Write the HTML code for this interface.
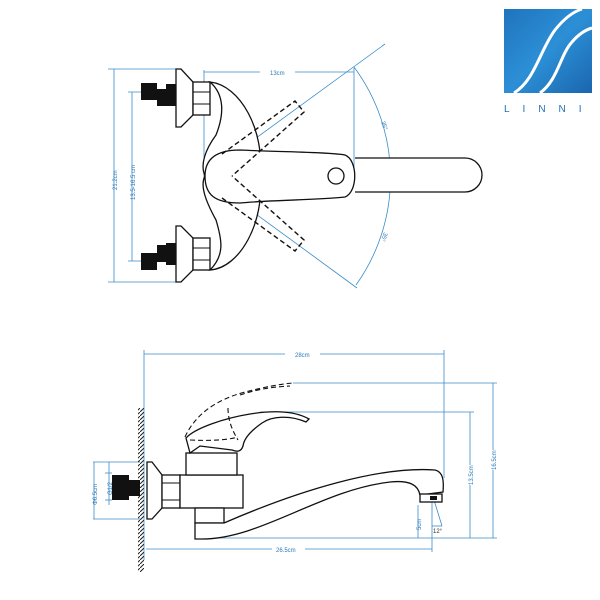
<!DOCTYPE html>
<html><head><meta charset="utf-8"><style>
body{margin:0;background:#fff}
svg{display:block}
text{font-family:"Liberation Sans",sans-serif;fill:#2a7ab8}
</style></head><body>
<svg width="600" height="600" viewBox="0 0 600 600" xmlns="http://www.w3.org/2000/svg">
<defs>
<linearGradient id="g" x1="0" y1="0" x2="1" y2="1"><stop offset="0" stop-color="#1f74bd"/><stop offset="0.5" stop-color="#2c8fd6"/><stop offset="1" stop-color="#1a66ad"/></linearGradient>
<pattern id="h" width="4" height="4" patternUnits="userSpaceOnUse"><path d="M0 4L4 0" stroke="#222" stroke-width="1"/></pattern>
</defs>
<!-- logo -->
<rect x="504" y="9" width="88" height="84" fill="url(#g)"/>
<path d="M514 93 C535 80 540 50 555 30 C563 20 572 12 582 9" stroke="#fff" stroke-width="3" fill="none"/>
<path d="M540 93 C558 80 560 55 572 42 C578 35 585 30 592 28" stroke="#fff" stroke-width="3" fill="none"/>
<text x="504" y="112" font-size="10" style="fill:#1f6fb5" letter-spacing="13">LINNI</text>

<g stroke="#3a8cc8" stroke-width="0.8" fill="none">
<line x1="108" y1="69" x2="176" y2="69"/><line x1="108" y1="282" x2="176" y2="282"/>
<line x1="114" y1="69" x2="114" y2="282"/>
<line x1="128" y1="92" x2="158" y2="92"/><line x1="128" y1="261" x2="158" y2="261"/>
<line x1="132" y1="92" x2="132" y2="261"/>
<line x1="204" y1="70" x2="204" y2="180"/>
<line x1="204" y1="72" x2="260" y2="72"/><line x1="295" y1="72" x2="354" y2="72"/>
<line x1="354" y1="68" x2="354" y2="180"/>
<line x1="204" y1="176" x2="400" y2="176"/>
<line x1="204" y1="176" x2="385" y2="44"/>
<line x1="204" y1="176" x2="357" y2="288"/>
<path d="M354 67 A185 185 0 0 1 356 285"/>
<line x1="144" y1="350" x2="144" y2="560"/>
<line x1="144" y1="354" x2="285" y2="354"/><line x1="320" y1="354" x2="444" y2="354"/>
<line x1="444" y1="350" x2="444" y2="478"/>
<line x1="293" y1="383" x2="497" y2="383"/><line x1="260" y1="412" x2="474" y2="412"/>
<line x1="493" y1="383" x2="493" y2="450"/><line x1="493" y1="470" x2="493" y2="538"/>
<line x1="470" y1="412" x2="470" y2="465"/><line x1="470" y1="485" x2="470" y2="538"/>
<line x1="198" y1="538" x2="497" y2="538"/>
<line x1="146" y1="549" x2="272" y2="549"/><line x1="305" y1="549" x2="432" y2="549"/>
<line x1="432" y1="500" x2="432" y2="552"/>
<line x1="418" y1="505" x2="418" y2="538"/>
<line x1="93" y1="462" x2="140" y2="462"/><line x1="93" y1="519" x2="140" y2="519"/>
<line x1="94" y1="462" x2="94" y2="519"/>
<line x1="105" y1="473" x2="112" y2="473"/><line x1="105" y1="500" x2="112" y2="500"/>
<line x1="109" y1="462" x2="109" y2="505"/>
<line x1="434" y1="500" x2="442" y2="526"/><line x1="432" y1="526" x2="442" y2="526"/>
</g>
<g font-size="6">
<text x="270" y="75">13cm</text>
<text x="295" y="357">28cm</text>
<text x="276" y="552">26.5cm</text>
<text transform="translate(117,190) rotate(-90)">21.2cm</text>
<text transform="translate(135,200) rotate(-90)">13.5-16.5 cm</text>
<text transform="translate(496,470) rotate(-90)">16.5cm</text>
<text transform="translate(473,485) rotate(-90)">13.5cm</text>
<text transform="translate(421,530) rotate(-90)">5cm</text>
<text transform="translate(97,505) rotate(-90)">Φ6.5cm</text>
<text transform="translate(112,495) rotate(-90)">G1/2</text>
<text x="433" y="533" style="fill:#333">12°</text>
<text transform="translate(381,122) rotate(70)">35°</text>
<text transform="translate(384,232) rotate(110)">35°</text>
</g>

<g stroke="#111" stroke-width="1.3" fill="#fff">
<path d="M176 69 L181 69 L193 82 L193 115 L181 127 L176 127 Z"/>
<rect x="193" y="82" width="17" height="33"/>
<path d="M176 226 L181 226 L193 238 L193 270 L181 282 L176 282 Z"/>
<rect x="193" y="238" width="17" height="32"/>
<path d="M210 82 C240 85 265 130 260 176 C265 222 240 268 210 270 C225 255 222 240 216 220 C205 200 200 185 205 176 C200 165 205 150 216 135 C224 115 225 95 210 82 Z"/>
<path d="M355 158 L465 158 A17 17 0 0 1 465 192 L355 192"/>
<path d="M205 176 C205 160 215 150 240 150 C280 152 330 152 345 155 C358 160 358 192 345 197 C320 200 270 200 240 203 C215 203 205 195 205 176 Z"/>
<circle cx="336" cy="176" r="8"/>
</g>
<g fill="#111">
<rect x="141" y="83" width="16" height="17"/><rect x="157" y="89" width="9" height="17"/><rect x="166" y="84" width="10" height="22"/>
<rect x="141" y="253" width="16" height="17"/><rect x="157" y="245" width="9" height="17"/><rect x="166" y="243" width="10" height="22"/>
</g>
<g stroke="#111" stroke-width="1.1" fill="none">
<line x1="193" y1="92" x2="210" y2="92"/><line x1="193" y1="104" x2="210" y2="104"/>
<line x1="193" y1="248" x2="210" y2="248"/><line x1="193" y1="260" x2="210" y2="260"/>
</g>
<g stroke="#111" stroke-width="1.4" fill="none" stroke-dasharray="5,3">
<path d="M222 154 L295 101 L304 112 L232 176"/>
<path d="M222 198 L295 251 L304 240 L232 176"/>
</g>

<rect x="138" y="408" width="6" height="164" fill="url(#h)"/>
<g stroke="#111" stroke-width="1.3" fill="#fff">
<path d="M147 462 L152 462 L162 475 L162 508 L152 519 L147 519 Z"/>
<rect x="162" y="475" width="18" height="33"/>
<rect x="180" y="475" width="63" height="33"/>
<rect x="186" y="453" width="51" height="22"/>
<rect x="195" y="508" width="29" height="15"/>
<path d="M195 523 L224 523 C300 490 380 466 435 470 C443 472 444 480 443 492 L420 495 C418 485 410 480 390 482 C320 490 260 540 200 539 L195 539 Z"/>
<rect x="420" y="494" width="22" height="8"/>
<path d="M190 453 L186 438 C195 428 225 418 250 414 C275 410 295 411 309 419 L306 422 C290 415 272 416 262 423 C252 430 244 438 243 446 C241 452 237 452 232 450 L200 446 Z"/>
</g>
<rect x="430" y="496" width="7" height="4" fill="#111"/>
<g fill="#111">
<rect x="112" y="475" width="17" height="25"/><rect x="129" y="480" width="11" height="16"/>
</g>
<g stroke="#111" stroke-width="1" fill="none">
<line x1="162" y1="483" x2="180" y2="483"/><line x1="162" y1="500" x2="180" y2="500"/>
</g>
<g stroke="#111" stroke-width="1.1" fill="none" stroke-dasharray="5,3">
<path d="M185 437 C195 415 215 400 245 392 C265 387 280 384 293 383"/>
<path d="M240 395 C255 390 270 387 290 386"/>
<path d="M190 440 C210 441 228 440 238 437"/>
<path d="M228 408 C228 420 232 430 238 440"/>
</g>
</svg>
</body></html>
